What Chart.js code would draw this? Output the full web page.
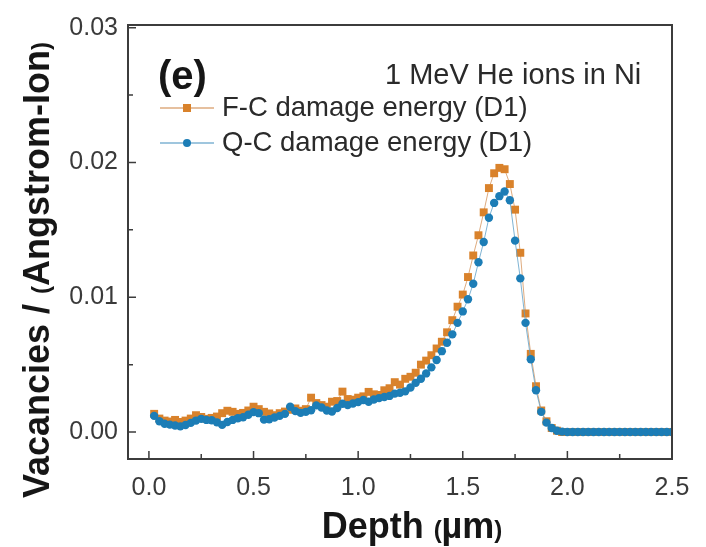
<!DOCTYPE html>
<html><head><meta charset="utf-8">
<script src="https://cdn.jsdelivr.net/npm/chart.js@4.4.1/dist/chart.umd.min.js"></script>
<style>html,body{margin:0;padding:0;background:#fff}#wrap{width:706px;height:547px}</style>
</head><body><div id="wrap"><canvas id="c" width="706" height="547"></canvas></div>
<script>
const depth = [0.025,0.05,0.075,0.1,0.125,0.15,0.175,0.2,0.225,0.25,
0.275,0.3,0.325,0.35,0.375,0.4,0.425,0.45,0.475,0.5,
0.525,0.55,0.575,0.6,0.625,0.65,0.675,0.7,0.725,0.75,
0.775,0.8,0.825,0.85,0.875,0.9,0.925,0.95,0.975,1.0,
1.025,1.05,1.075,1.1,1.125,1.15,1.175,1.2,1.225,1.25,
1.275,1.3,1.325,1.35,1.375,1.4,1.425,1.45,1.475,1.5,
1.525,1.55,1.575,1.6,1.625,1.65,1.675,1.7,1.725,1.75,
1.775,1.8,1.825,1.85,1.875,1.9,1.925,1.95,1.975,2.0,
2.025,2.05,2.075,2.1,2.125,2.15,2.175,2.2,2.225,2.25,
2.275,2.3,2.325,2.35,2.375,2.4,2.425,2.45,2.475,2.5];

const fcDamage = [0.00135,0.00100,0.00085,0.00078,0.00090,0.00075,0.00085,0.00100,0.00125,0.00112,
0.00098,0.00105,0.00115,0.00140,0.00158,0.00150,0.00135,0.00142,0.00160,0.00188,
0.00170,0.00150,0.00138,0.00125,0.00140,0.00152,0.00165,0.00175,0.00158,0.00170,
0.00255,0.00215,0.00200,0.00188,0.00225,0.00230,0.00300,0.00245,0.00240,0.00255,
0.00265,0.00298,0.00280,0.00275,0.00310,0.00325,0.00370,0.00352,0.00395,0.00410,
0.00440,0.00500,0.00530,0.00570,0.00620,0.00670,0.00740,0.00830,0.00930,0.01020,
0.01150,0.01310,0.01460,0.01630,0.01810,0.01920,0.01960,0.01950,0.01840,0.01650,
0.01330,0.00880,0.00580,0.00340,0.00160,0.00080,0.00030,0.00010,0,0,
0,0,0,0,0,0,0,0,0,0,
0,0,0,0,0,0,0,0,0,0];

const qcDamage = [0.00120,0.00080,0.00062,0.00055,0.00048,0.00042,0.00052,0.00068,0.00085,0.00098,
0.00090,0.00088,0.00072,0.00053,0.00075,0.00090,0.00102,0.00110,0.00128,0.00148,
0.00140,0.00092,0.00095,0.00108,0.00120,0.00135,0.00188,0.00155,0.00142,0.00150,
0.00162,0.00198,0.00182,0.00160,0.00152,0.00178,0.00210,0.00200,0.00212,0.00222,
0.00238,0.00225,0.00242,0.00252,0.00260,0.00268,0.00285,0.00292,0.00302,0.00330,
0.00365,0.00395,0.00435,0.00480,0.00535,0.00600,0.00662,0.00725,0.00810,0.00895,
0.00985,0.01100,0.01260,0.01410,0.01590,0.01700,0.01750,0.01785,0.01720,0.01420,
0.01140,0.00810,0.00540,0.00310,0.00150,0.00070,0.00030,0.00010,0.00003,0,
0,0,0,0,0,0,0,0,0,0,
0,0,0,0,0,0,0,0,0,0];

const seriesLabels = ['F-C damage energy (D1)', 'Q-C damage energy (D1)'];
const xTickValues = [0, 0.5, 1, 1.5, 2, 2.5];
const xTickLabels = ['0.0', '0.5', '1.0', '1.5', '2.0', '2.5'];
const xMinorTicks = [0.25, 0.75, 1.25, 1.75, 2.25];
const yTickValues = [0, 0.01, 0.02, 0.03];
const yTickLabels = ['0.00', '0.01', '0.02', '0.03'];
const yMinorTicks = [0.005, 0.015, 0.025];
const panelLabel = '(e)';
const noteText = '1 MeV He ions in Ni';
const xTitleParts = [['Depth ', false], ['(', true], ['µm', false], [')', true]];
const yTitleParts = [['Vacancies / ', false], ['(', true], ['Angstrom-Ion', false], [')', true]];

const FF = "'Liberation Sans', Arial, Helvetica, sans-serif";
const ORANGE = '#D9822B';
const BLUE = '#1C7DB6';
const ORANGE_LINE = 'rgba(214,150,95,0.8)';
const BLUE_LINE = 'rgba(95,160,200,0.8)';

function drawMixed(ctx, parts, cx, cy, rot, big, small) {
  ctx.save();
  ctx.translate(cx, cy);
  if (rot) ctx.rotate(rot);
  let total = 0;
  const items = parts.map(([t, sm]) => {
    ctx.font = `bold ${sm ? small : big}px ${FF}`;
    const w = ctx.measureText(t).width;
    total += w;
    return { t, sm, w };
  });
  let x = -total / 2;
  ctx.fillStyle = '#161616';
  ctx.textBaseline = 'alphabetic';
  ctx.textAlign = 'left';
  for (const it of items) {
    ctx.font = `bold ${it.sm ? small : big}px ${FF}`;
    ctx.fillText(it.t, x, Math.round(big * 0.36));
    x += it.w;
  }
  ctx.restore();
}

const decor = {
  id: 'decor',
  afterDraw(chart) {
    const ctx = chart.ctx;
    const a = chart.chartArea;
    const xs = chart.scales.x, ys = chart.scales.y;
    ctx.save();
    ctx.strokeStyle = '#3c3c3c';
    ctx.lineWidth = 2;
    ctx.strokeRect(a.left, a.top, a.right - a.left, a.bottom - a.top);
    ctx.lineWidth = 1.5;
    ctx.beginPath();
    xTickValues.forEach(v => { const p = xs.getPixelForValue(v); ctx.moveTo(p, a.bottom); ctx.lineTo(p, a.bottom - 8); });
    xMinorTicks.forEach(v => { const p = xs.getPixelForValue(v); ctx.moveTo(p, a.bottom); ctx.lineTo(p, a.bottom - 5); });
    yTickValues.forEach(v => { const p = ys.getPixelForValue(v); ctx.moveTo(a.left, p); ctx.lineTo(a.left + 8, p); });
    yMinorTicks.forEach(v => { const p = ys.getPixelForValue(v); ctx.moveTo(a.left, p); ctx.lineTo(a.left + 5, p); });
    ctx.stroke();

    ctx.fillStyle = '#161616';
    ctx.textBaseline = 'alphabetic';
    ctx.textAlign = 'left';
    ctx.font = `bold 40px ${FF}`;
    ctx.fillText(panelLabel, 158, 89);
    ctx.fillStyle = '#2a2a2a';
    ctx.font = `29px ${FF}`;
    ctx.fillText(noteText, 385, 84);

    const rows = [
      { y: 108, line: ORANGE_LINE, fill: ORANGE, rect: true, label: chart.data.datasets[0].label },
      { y: 143, line: BLUE_LINE, fill: BLUE, rect: false, label: chart.data.datasets[1].label }
    ];
    rows.forEach(r => {
      ctx.strokeStyle = r.line;
      ctx.lineWidth = 1.5;
      ctx.beginPath(); ctx.moveTo(160, r.y); ctx.lineTo(214, r.y); ctx.stroke();
      ctx.fillStyle = r.fill;
      if (r.rect) ctx.fillRect(187 - 4, r.y - 4, 8, 8);
      else { ctx.beginPath(); ctx.arc(187, r.y, 4, 0, Math.PI * 2); ctx.fill(); }
      ctx.fillStyle = '#2a2a2a';
      ctx.font = `27.5px ${FF}`;
      ctx.textBaseline = 'middle';
      ctx.fillText(r.label, 222, r.y);
    });
    ctx.restore();

    drawMixed(ctx, xTitleParts, 412, 525, 0, 36, 24);
    drawMixed(ctx, yTitleParts, 36, 270, -Math.PI / 2, 36, 24);
  }
};

new Chart(document.getElementById('c').getContext('2d'), {
  type: 'line',
  data: {
    datasets: [
      {
        label: seriesLabels[0],
        data: depth.map((d, i) => ({ x: d, y: fcDamage[i] })),
        borderColor: ORANGE_LINE,
        borderWidth: 1,
        pointStyle: 'rect',
        pointRadius: 5.6,
        pointBackgroundColor: ORANGE,
        pointBorderColor: ORANGE,
        pointBorderWidth: 0,
        order: 1
      },
      {
        label: seriesLabels[1],
        data: depth.map((d, i) => ({ x: d, y: qcDamage[i] })),
        borderColor: BLUE_LINE,
        borderWidth: 1,
        pointStyle: 'circle',
        pointRadius: 4.2,
        pointBackgroundColor: BLUE,
        pointBorderColor: BLUE,
        pointBorderWidth: 0,
        order: 0
      }
    ]
  },
  options: {
    responsive: false,
    animation: false,
    devicePixelRatio: 1,
    layout: { padding: { left: 0, top: 20, right: 34, bottom: 0 } },
    plugins: { legend: { display: false }, tooltip: { enabled: false } },
    scales: {
      x: {
        type: 'linear', min: -0.1, max: 2.5,
        afterBuildTicks: s => { s.ticks = xTickValues.map(v => ({ value: v })); },
        afterFit: s => { s.height = 88; },
        ticks: { callback: (v, i) => xTickLabels[i], font: { size: 25, family: FF }, color: '#3a3a3a', padding: 14, maxRotation: 0, autoSkip: false },
        grid: { display: false, drawTicks: false },
        border: { display: false }
      },
      y: {
        type: 'linear', min: -0.002, max: 0.0302,
        afterBuildTicks: s => { s.ticks = yTickValues.map(v => ({ value: v })); },
        afterFit: s => { s.width = 128; },
        ticks: { callback: (v, i) => yTickLabels[i], font: { size: 25, family: FF }, color: '#3a3a3a', padding: 10, autoSkip: false },
        grid: { display: false, drawTicks: false },
        border: { display: false }
      }
    }
  },
  plugins: [decor]
});
</script>
</body></html>
